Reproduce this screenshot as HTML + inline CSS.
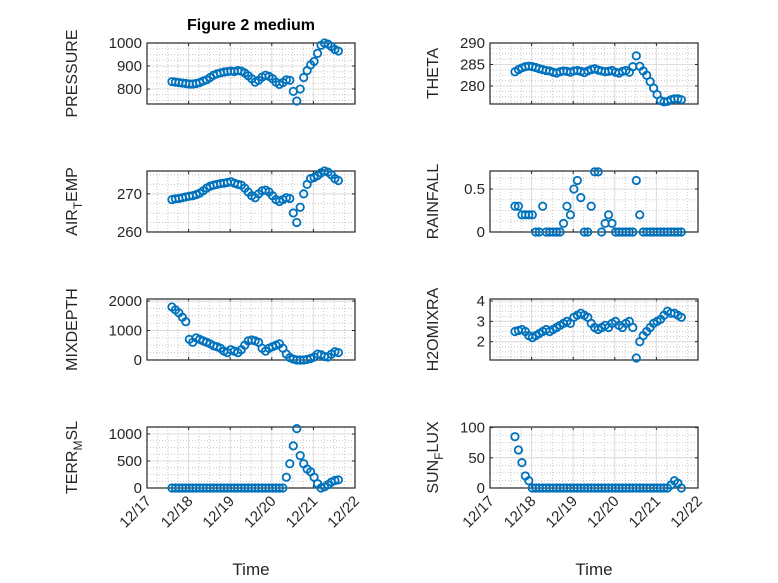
<!DOCTYPE html>
<html><head><meta charset="utf-8"><style>
body{margin:0;background:#fff}
svg{display:block;font-family:"Liberation Sans",sans-serif}
</style></head><body>
<svg id="fig" width="778" height="583" viewBox="0 0 778 583"></svg>
<script>
const tDays=[0.6,0.683,0.767,0.85,0.933,1.017,1.1,1.183,1.267,1.35,1.433,1.517,1.6,1.683,1.767,1.85,1.933,2.017,2.1,2.183,2.267,2.35,2.433,2.517,2.6,2.683,2.767,2.85,2.933,3.017,3.1,3.183,3.267,3.35,3.433,3.517,3.6,3.683,3.767,3.85,3.933,4.017,4.1,4.183,4.267,4.35,4.433,4.517,4.6];
const pressure=[832,830,828,826,824,822,822,824,828,835,840,850,860,866,870,874,876,878,876,880,878,870,858,845,830,838,852,860,855,845,830,820,828,840,838,790,748,800,850,880,905,920,955,990,1000,995,985,972,965];
const airTemp=[268.5,268.7,268.8,269,269.2,269.4,269.5,269.8,270.2,270.8,271.5,272,272.3,272.5,272.7,272.8,273,273.2,272.8,272.5,272.3,271.5,270.5,269.5,269,270,270.8,271,270.5,269.5,268.5,268,268.5,269,268.8,265,262.5,266.5,270,272.5,274,274.3,274.8,275.5,276,275.7,275,274,273.5];
const theta=[283.3,283.8,284.2,284.5,284.6,284.5,284.3,284,283.8,283.6,283.5,283.2,283,283.3,283.5,283.4,283.2,283.5,283.6,283.4,283.1,283.5,283.8,284,283.7,283.5,283.3,283.4,283.6,283.2,283,283.4,283.6,283.2,284.5,287,284.6,283.5,282.5,281,279.5,278,276.6,276.3,276.4,276.8,277,277,276.8];
const rainfall=[0.3,0.3,0.2,0.2,0.2,0.2,0,0,0.3,0,0,0,0,0,0.1,0.3,0.2,0.5,0.6,0.4,0,0,0.3,0.7,0.7,0,0.1,0.2,0.1,0,0,0,0,0,0,0.6,0.2,0,0,0,0,0,0,0,0,0,0,0,0];
const mixDepth=[1800,1700,1600,1450,1300,700,600,750,700,650,600,550,480,450,400,300,250,350,300,250,350,500,650,680,650,600,400,300,400,450,500,550,400,200,80,30,0,0,0,20,50,100,200,180,120,100,200,280,250];
const h2oMix=[2.5,2.55,2.6,2.5,2.3,2.2,2.3,2.4,2.5,2.6,2.5,2.6,2.7,2.8,2.9,3.0,2.9,3.2,3.3,3.4,3.3,3.2,2.9,2.7,2.6,2.7,2.8,2.7,2.9,3.0,2.8,2.7,2.9,3.0,2.7,1.2,2.0,2.3,2.5,2.7,2.9,3.0,3.1,3.3,3.5,3.4,3.4,3.3,3.2];
const terrMsl=[0,0,0,0,0,0,0,0,0,0,0,0,0,0,0,0,0,0,0,0,0,0,0,0,0,0,0,0,0,0,0,0,0,200,450,780,1100,600,450,350,300,200,80,0,20,60,110,140,150];
const sunFlux=[85,63,42,20,12,0,0,0,0,0,0,0,0,0,0,0,0,0,0,0,0,0,0,0,0,0,0,0,0,0,0,0,0,0,0,0,0,0,0,0,0,0,0,0,0,5,12,8,0];
const xTickLabels=["12/17","12/18","12/19","12/20","12/21","12/22"];

const NS="http://www.w3.org/2000/svg";
const svg=document.getElementById('fig');
function mk(tag,attrs,parent){const e=document.createElementNS(NS,tag);for(const k in attrs)e.setAttribute(k,attrs[k]);(parent||svg).appendChild(e);return e;}

const panels=[
 {name:'pressure',data:pressure,col:0,row:0,ymin:735,ymax:1000,ticks:[800,900,1000],label:['PRESSURE']},
 {name:'theta',data:theta,col:1,row:0,ymin:275.8,ymax:290,ticks:[280,285,290],label:['THETA']},
 {name:'air-temp',data:airTemp,col:0,row:1,ymin:260,ymax:276,ticks:[260,270],label:['AIR','T','EMP']},
 {name:'rainfall',data:rainfall,col:1,row:1,ymin:0,ymax:0.71,ticks:[0,0.5],label:['RAINFALL']},
 {name:'mixdepth',data:mixDepth,col:0,row:2,ymin:0,ymax:2070,ticks:[0,1000,2000],label:['MIXDEPTH']},
 {name:'h2omixra',data:h2oMix,col:1,row:2,ymin:1.1,ymax:4.1,ticks:[2,3,4],label:['H2OMIXRA']},
 {name:'terr-msl',data:terrMsl,col:0,row:3,ymin:0,ymax:1130,ticks:[0,500,1000],label:['TERR','M','SL']},
 {name:'sun-flux',data:sunFlux,col:1,row:3,ymin:0,ymax:101,ticks:[0,50,100],label:['SUN','F','LUX']}
];
const colX=[147,490],W=208,rowY=[43,171,299,427],H=61;

panels.forEach(p=>{
 const L=colX[p.col],T=rowY[p.row];
 const xs=d=>L+d/5*W;
 const ys=v=>T+H-(v-p.ymin)/(p.ymax-p.ymin)*H;
 const g=mk('g',{});
 
 
 mk('rect',{x:L,y:T,width:W,height:H,fill:'#fff'},g);
 for(let d=0;d<=5;d+=0.25){const x=xs(d);if(d%1!==0)mk('line',{x1:x,x2:x,y1:T,y2:T+H,stroke:'#c8c8c8','stroke-width':1,'stroke-dasharray':'1 2'},g);}
 const step=p.ticks.length>1?p.ticks[1]-p.ticks[0]:1;
 for(let v=p.ticks[0]-step;v<=p.ymax+1e-9;v+=step/4){if(v<p.ymin-1e-9)continue;const y=ys(v);mk('line',{x1:L,x2:L+W,y1:y,y2:y,stroke:'#c8c8c8','stroke-width':1,'stroke-dasharray':'1 2'},g);}
 for(let d=1;d<5;d++){const x=xs(d);mk('line',{x1:x,x2:x,y1:T,y2:T+H,stroke:'#dcdcdc','stroke-width':1},g);
  mk('line',{x1:x,x2:x,y1:T+H,y2:T+H-3,stroke:'#262626'},g);mk('line',{x1:x,x2:x,y1:T,y2:T+3,stroke:'#262626'},g);}
 p.ticks.forEach(v=>{const y=ys(v);mk('line',{x1:L,x2:L+W,y1:y,y2:y,stroke:'#dcdcdc'},g);
  mk('line',{x1:L,x2:L+3,y1:y,y2:y,stroke:'#262626'},g);mk('line',{x1:L+W,x2:L+W-3,y1:y,y2:y,stroke:'#262626'},g);
  const t=mk('text',{x:L-5,y:y+5,'text-anchor':'end','font-size':15,fill:'#262626'},g);t.textContent=String(v);
  });
 mk('rect',{x:L,y:T,width:W,height:H,fill:'none',stroke:'#262626','stroke-width':1.2},g);
 p.data.forEach((v,i)=>{const c=mk('circle',{cx:xs(tDays[i]),cy:ys(v),r:3.7,fill:'none',stroke:'#0072bd','stroke-width':1.8},g);
  
  });
 const lx=p.col===0?L-70:L-52, ly=T+H/2;
 const yl=mk('text',{transform:`translate(${lx},${ly}) rotate(-90)`,'text-anchor':'middle','font-size':16,fill:'#262626'},g);
 
 
 if(p.label.length===1){yl.textContent=p.label[0];}
 else{const a=mk('tspan',{},yl);a.textContent=p.label[0];
  const b=mk('tspan',{dy:5,'font-size':12},yl);b.textContent=p.label[1];
  const c=mk('tspan',{dy:-5},yl);c.textContent=p.label[2];}
 if(p.row===3){
  xTickLabels.forEach((s,d)=>{const x=xs(d);
   const t=mk('text',{transform:`translate(${x+5},${T+H+14}) rotate(-45)`,'text-anchor':'end','font-size':15,fill:'#262626'},g);
   t.textContent=s;});
  const xt=mk('text',{x:L+W/2,y:575,'text-anchor':'middle','font-size':17,fill:'#262626'},g);
  xt.textContent='Time';
  
  
 }
});
const title=mk('text',{x:251,y:30,'text-anchor':'middle','font-size':16,'font-weight':'bold',fill:'#000'});
title.textContent='Figure 2 medium';


</script>
</body></html>
